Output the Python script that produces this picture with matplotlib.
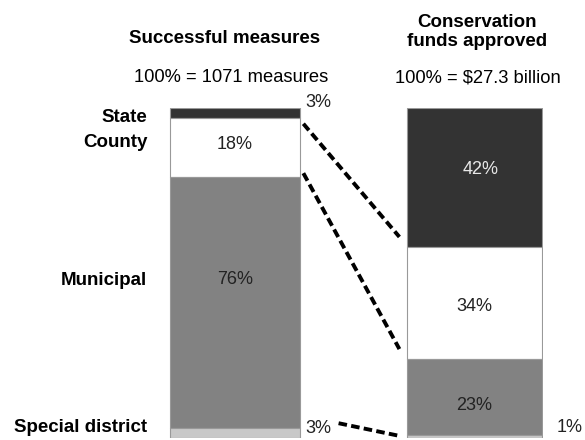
import numpy as np
import matplotlib.pyplot as plt

plt.rcParams['font.family'] = ['Liberation Sans', 'DejaVu Sans']

categories = ["State", "County", "Municipal", "Special district"]
measures_pct = [3, 18, 76, 3]
funds_pct = [42, 34, 23, 1]
colors = ["#333333", "#ffffff", "#828282", "#c8c8c8"]

fig = plt.figure(figsize=(5.85, 4.4), dpi=100)
ax = fig.add_axes([169 / 585, 2 / 440, 374 / 585, 330 / 440])

x_left, x_right = 0.0, 1.81
w_left, w_right = 0.985, 1.02
for xpos, vals, w in [(x_left, measures_pct, w_left), (x_right, funds_pct, w_right)]:
    bottoms = np.concatenate([[0], np.cumsum(vals)[:-1]])
    ax.bar([xpos] * len(vals), vals, bottom=bottoms, width=w, color=colors,
           edgecolor="#999999", linewidth=0.8)

ax.set_xlim(-0.5, 2.33)
ax.set_ylim(100, 0)
ax.axis("off")

fs = 13
cl = np.cumsum(measures_pct)
cr = np.cumsum(funds_pct)
ax.text(0.53, -1.8, "3%", fontsize=fs, ha="left", va="center", color="#222222", clip_on=False)
ax.text(x_left, cl[0] + measures_pct[1] / 2 - 1, "18%", fontsize=fs, ha="center", va="center", color="#222222")
ax.text(x_left, 52, "76%", fontsize=fs, ha="center", va="center", color="#222222")
ax.text(0.53, 97, "3%", fontsize=fs, ha="left", va="center", color="#222222", clip_on=False)
ax.text(x_right + 0.05, 18.5, "42%", fontsize=fs, ha="center", va="center", color="#e8e8e8")
ax.text(x_right, cr[0] + funds_pct[1] / 2 + 1.2, "34%", fontsize=fs, ha="center", va="center", color="#222222")
ax.text(x_right, cr[1] + funds_pct[2] / 2 + 2.5, "23%", fontsize=fs, ha="center", va="center", color="#222222")
ax.text(x_right + 0.62, 96.8, "1%", fontsize=fs, ha="left", va="center", color="#222222", clip_on=False)

# category labels
label_y = [3.0, 10.6, 52.4, 96.8]
for cat, yy in zip(categories, label_y):
    ax.text(-0.665, yy, cat, fontsize=13.5, fontweight="bold", ha="right", va="center", clip_on=False)

# dashed connectors between segment boundaries
starts = [0.03, 0.03, 0.36]
start_dy = [0.6, -2.9, -2.2]
end_dy = [-0.2, 0.9, 0.5]
for i, s in enumerate(starts):
    x0, y0 = x_left + w_left / 2, cl[i]
    x1, y1 = x_right - w_right / 2, cr[i]
    t0, t1 = s, 0.93
    ax.plot([x0 + t0 * (x1 - x0), x0 + t1 * (x1 - x0)],
            [y0 + t0 * (y1 - y0) + start_dy[i], y0 + t1 * (y1 - y0) + end_dy[i]],
            color="black", linewidth=2.8, linestyle=(0, (2.2, 1.1)), clip_on=False)

# headers
fig.text(225 / 585, 1 - 38 / 440, "Successful measures", fontsize=13.5, fontweight="bold", ha="center", va="center")
fig.text(231 / 585, 1 - 78 / 440, "100% = 1071 measures", fontsize=13.2, ha="center", va="center")
fig.text(477 / 585, 1 - 32 / 440, "Conservation\nfunds approved", fontsize=13.5, fontweight="bold",
         ha="center", va="center", linespacing=1.1)
fig.text(478 / 585, 1 - 78 / 440, "100% = $27.3 billion", fontsize=13.2, ha="center", va="center")

fig.savefig("out.png", dpi=100)
